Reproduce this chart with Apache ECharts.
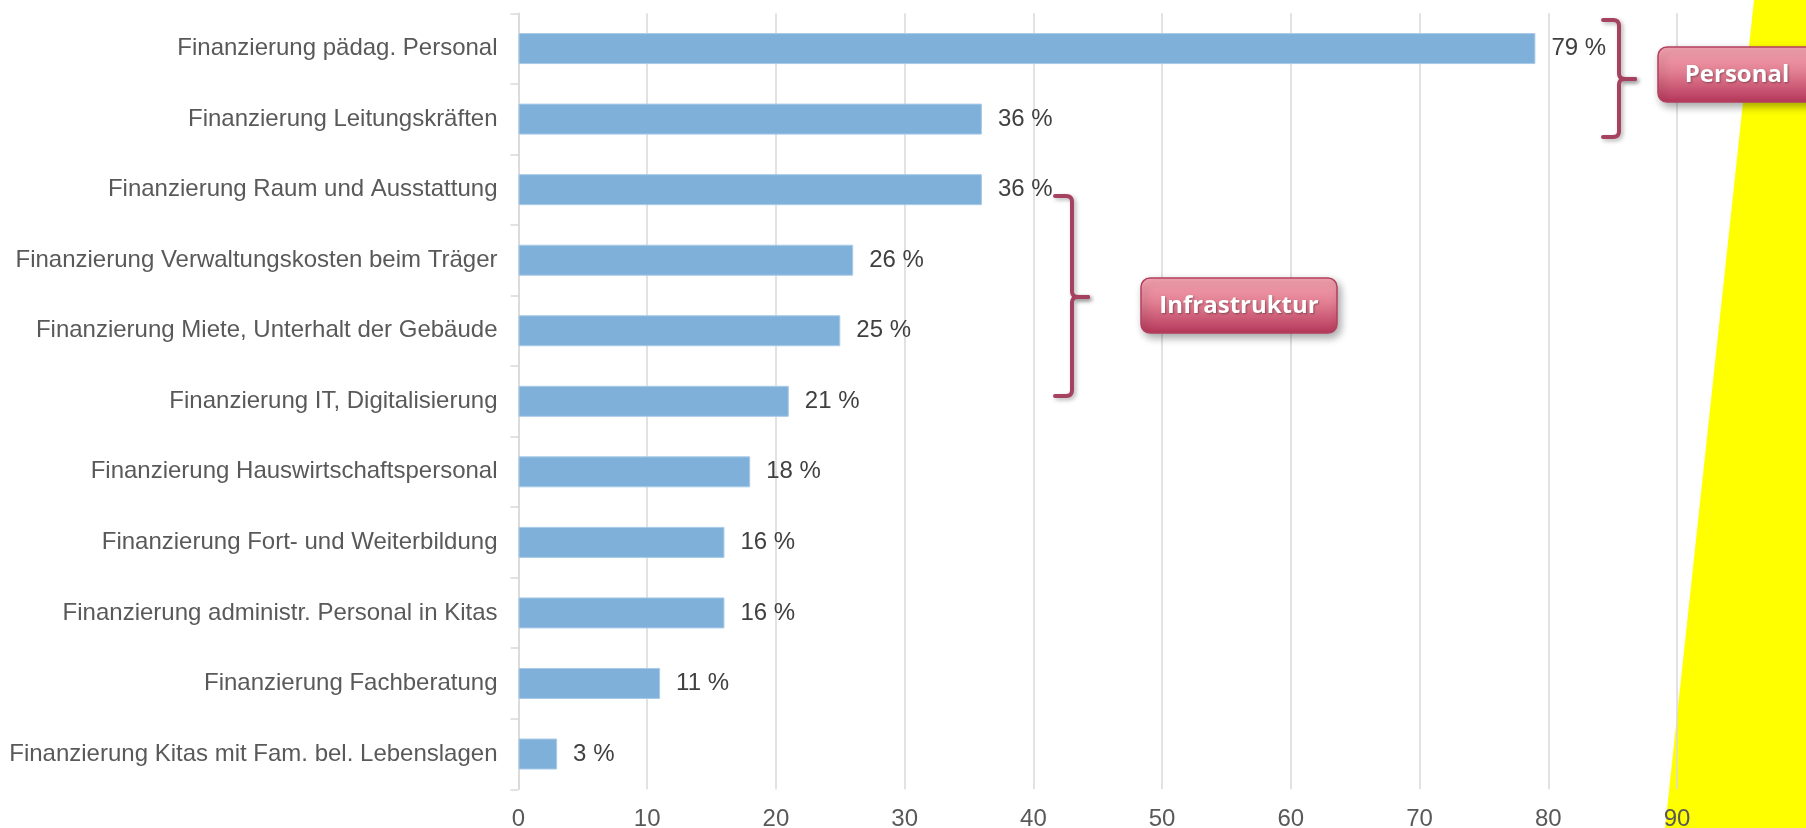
<!DOCTYPE html>
<html lang="de">
<head>
<meta charset="utf-8">
<title>Finanzierungsbedarfe</title>
<script src="https://cdn.jsdelivr.net/npm/echarts@6/dist/echarts.min.js"></script>
<style>
  html, body { margin: 0; padding: 0; background: #ffffff; }
  #chart { width: 1806px; height: 828px; }
</style>
</head>
<body>
<div id="chart"></div>
<script>
// Kategorien (von oben nach unten) und Anteile in Prozent
const categories = [
  'Finanzierung pädag. Personal',
  'Finanzierung Leitungskräften',
  'Finanzierung Raum und Ausstattung',
  'Finanzierung Verwaltungskosten beim Träger',
  'Finanzierung Miete, Unterhalt der Gebäude',
  'Finanzierung IT, Digitalisierung',
  'Finanzierung Hauswirtschaftspersonal',
  'Finanzierung Fort- und Weiterbildung',
  'Finanzierung administr. Personal in Kitas',
  'Finanzierung Fachberatung',
  'Finanzierung Kitas mit Fam. bel. Lebenslagen'
];
const values = [79, 36, 36, 26, 25, 21, 18, 16, 16, 11, 3];

// Wertachse
const axisMin = 0;
const axisMax = 90;
const axisStep = 10;

// Gruppenbeschriftungen
const groupNames = ['Personal', 'Infrastruktur'];

const FONT = '"Liberation Sans", Arial, Helvetica, sans-serif';
const BOX_FONT = '"Open Sans", "Noto Sans", sans-serif';
const BRACE_COLOR = '#a6415f';

const chart = echarts.init(document.getElementById('chart'), null, { renderer: 'canvas' });

// Quadratische Kurve als Punktfolge
function quad(p0, c, p1, n) {
  const pts = [];
  for (let i = 0; i <= n; i++) {
    const t = i / n;
    const a = (1 - t) * (1 - t), b = 2 * (1 - t) * t, d = t * t;
    pts.push([a * p0[0] + b * c[0] + d * p1[0], a * p0[1] + b * c[1] + d * p1[1]]);
  }
  return pts;
}

// Geschweifte Klammer nach rechts: obere und untere Hälfte enden an der Spitze
function brace(xHook, xv, xTip, yTop, yMid, yBot, r) {
  const upper = [[xHook, yTop]]
    .concat(quad([xv - r, yTop], [xv, yTop], [xv, yTop + r], 6))
    .concat(quad([xv, yMid - r], [xv, yMid], [xv + r, yMid], 6))
    .concat([[xTip, yMid]]);
  const lower = [[xTip, yMid]]
    .concat(quad([xv + r, yMid], [xv, yMid], [xv, yMid + r], 6))
    .concat(quad([xv, yBot - r], [xv, yBot], [xv - r, yBot], 6))
    .concat([[xHook, yBot]]);
  const style = {
    stroke: BRACE_COLOR, lineWidth: 4, fill: null,
    lineCap: 'round', lineJoin: 'round',
    shadowBlur: 4, shadowColor: 'rgba(0,0,0,0.3)', shadowOffsetX: 2, shadowOffsetY: 2
  };
  return [
    { type: 'polyline', z: 50, shape: { points: upper }, style: style },
    { type: 'polyline', z: 50, shape: { points: lower }, style: style }
  ];
}

// Beschriftungsfeld mit Verlauf
function labelBox(x, y, w, h, text) {
  return [
    {
      type: 'rect', z: 60,
      shape: { x: x, y: y, width: w, height: h, r: 9 },
      style: {
        fill: new echarts.graphic.LinearGradient(0, 0, 0, 1, [
          { offset: 0, color: '#f6a6b2' },
          { offset: 0.45, color: '#e27f92' },
          { offset: 1, color: '#b5365a' }
        ]),
        stroke: '#b3405f', lineWidth: 1.5,
        shadowBlur: 8, shadowColor: 'rgba(0,0,0,0.35)', shadowOffsetX: 3, shadowOffsetY: 4
      }
    },
    {
      type: 'text', z: 61,
      x: x + w / 2, y: y + h / 2 + 1,
      style: {
        text: text, fill: '#ffffff', font: 'bold 24px ' + BOX_FONT,
        align: 'center', verticalAlign: 'middle',
        textShadowBlur: 2, textShadowColor: 'rgba(0,0,0,0.35)', textShadowOffsetX: 1, textShadowOffsetY: 1
      }
    }
  ];
}

const graphics = []
  // gelbe Fläche am rechten Rand
  .concat([{
    type: 'polygon', z: -10, silent: true,
    shape: { points: [[1754, 0], [1806, 0], [1806, 828], [1665, 828]] },
    style: { fill: '#ffff00' }
  }])
  .concat(brace(1603, 1619, 1635, 20, 79, 137, 6))
  .concat(labelBox(1658, 47, 158, 55, groupNames[0]))
  .concat(brace(1055, 1072, 1088, 196, 297, 396, 6))
  .concat(labelBox(1141, 278, 196, 55, groupNames[1]));

chart.setOption({
  animation: false,
  backgroundColor: 'transparent',
  grid: {
    left: 518.5, right: 129, top: 13.3, bottom: 38.7,
    containLabel: false, outerBoundsMode: 'none'
  },
  xAxis: {
    type: 'value',
    min: axisMin, max: axisMax, interval: axisStep,
    axisLine: { show: false },
    axisTick: { show: false },
    splitLine: { show: true, lineStyle: { color: '#d9d9d9', width: 1.5 } },
    axisLabel: { color: '#595959', fontSize: 24, fontFamily: FONT, margin: 18 }
  },
  yAxis: {
    type: 'category',
    inverse: true,
    data: categories,
    axisLine: { show: true, lineStyle: { color: '#d9d9d9', width: 1.5 } },
    axisTick: { show: true, length: 8, lineStyle: { color: '#d9d9d9', width: 1.5 } },
    axisLabel: { color: '#595959', fontSize: 24, fontFamily: FONT, margin: 21 },
    splitLine: { show: false }
  },
  series: [{
    type: 'bar',
    data: values,
    barWidth: 31,
    itemStyle: { color: '#7eb0d9', borderColor: '#a9cbe8', borderWidth: 1 },
    label: {
      show: true, position: 'right', distance: 16,
      color: '#404040', fontSize: 24, fontFamily: FONT,
      formatter: '{c} %'
    }
  }],
  graphic: { elements: graphics }
});
</script>
</body>
</html>
